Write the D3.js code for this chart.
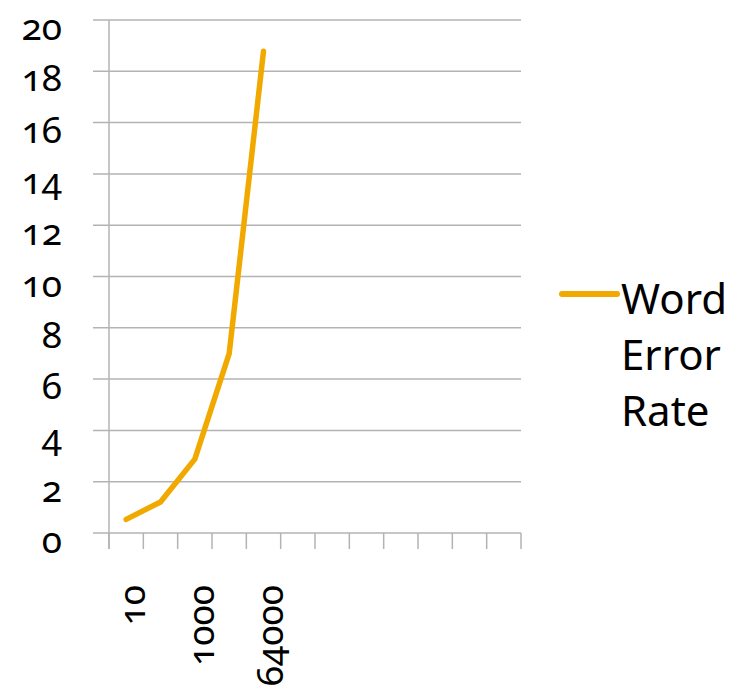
<!DOCTYPE html>
<html>
<head>
<meta charset="utf-8">
<script src="https://cdn.jsdelivr.net/npm/d3@7"></script>
<style>
    body { margin: 0; background: #fff; }
    text { font-family: "Noto Sans", sans-serif; fill: #000; }
    .tick-label { font-size: 37px; font-variant-numeric: oldstyle-nums; font-feature-settings: "onum" 1; }
    .legend-label { font-size: 42px; }
</style>
</head>
<body>
<div id="chart"></div>
<script>
// Data
const slots = d3.range(12); // category slots on the x axis
const tickLabels = ["10", "", "1000", "", "64000", "", "", "", "", "", "", ""];
const werValues = [0.53, 1.21, 2.88, 6.99, 18.78];
const yTicks = [0, 2, 4, 6, 8, 10, 12, 14, 16, 18, 20];
const seriesName = ["Word", "Error", "Rate"];

const width = 739, height = 700;
const margin = { top: 20, right: 218, bottom: 167, left: 109 };
const chartWidth = width - margin.left - margin.right;
const chartHeight = height - margin.top - margin.bottom;
const lineColor = "#f1a900";
const gridColor = "#b3b3b3";

const svg = d3.select("#chart")
    .append("svg")
    .attr("width", width)
    .attr("height", height);

const g = svg.append("g")
    .attr("transform", `translate(${margin.left},${margin.top})`);

const x = d3.scaleBand()
    .domain(slots)
    .range([0, chartWidth])
    .padding(0);

const y = d3.scaleLinear()
    .domain([0, 20])
    .range([chartHeight, 0]);

// Horizontal gridlines (with outward tick on the left)
g.selectAll(".grid")
    .data(yTicks)
    .enter()
    .append("line")
    .attr("x1", -16)
    .attr("x2", chartWidth)
    .attr("y1", (d) => y(d))
    .attr("y2", (d) => y(d))
    .attr("stroke", gridColor)
    .attr("stroke-width", 1.5);

// Y labels (old-style figures sit below their gridline)
g.selectAll(".y-label")
    .data(yTicks)
    .enter()
    .append("text")
    .attr("class", "tick-label")
    .attr("x", -47)
    .attr("y", (d) => y(d) + 20)
    .attr("text-anchor", "end")
    .text((d) => d);

// Vertical axis line
g.append("line")
    .attr("x1", 0)
    .attr("x2", 0)
    .attr("y1", 0)
    .attr("y2", chartHeight + 16)
    .attr("stroke", gridColor)
    .attr("stroke-width", 1.5);

// X tick marks at band edges
g.selectAll(".x-tick")
    .data(slots.concat([slots.length]))
    .enter()
    .append("line")
    .attr("x1", (d) => d < slots.length ? x(d) : chartWidth)
    .attr("x2", (d) => d < slots.length ? x(d) : chartWidth)
    .attr("y1", chartHeight)
    .attr("y2", chartHeight + 16)
    .attr("stroke", gridColor)
    .attr("stroke-width", 1.5);

// X labels rotated
g.selectAll(".x-label")
    .data(slots.filter((d) => tickLabels[d] !== ""))
    .enter()
    .append("text")
    .attr("class", "tick-label")
    .attr("text-anchor", "end")
    .attr("transform", (d) => `translate(${x(d) + x.bandwidth() / 2 + 19},${chartHeight + 52}) rotate(-90)`)
    .text((d) => tickLabels[d]);

// Series line
const line = d3.line()
    .x((d, i) => x(slots[i]) + x.bandwidth() / 2)
    .y((d) => y(d));

g.append("path")
    .datum(werValues)
    .attr("fill", "none")
    .attr("stroke", lineColor)
    .attr("stroke-width", 5.5)
    .attr("stroke-linecap", "round")
    .attr("stroke-linejoin", "round")
    .attr("d", line);

// Legend
const legend = svg.append("g").attr("transform", "translate(562,294)");
legend.append("line")
    .attr("x1", 0)
    .attr("x2", 55)
    .attr("stroke", lineColor)
    .attr("stroke-width", 6)
    .attr("stroke-linecap", "round");

legend.selectAll(".legend-label")
    .data(seriesName)
    .enter()
    .append("text")
    .attr("class", "legend-label")
    .attr("x", 59)
    .attr("y", (d, i) => 20 + i * 56)
    .text((d) => d);
</script>
</body>
</html>
